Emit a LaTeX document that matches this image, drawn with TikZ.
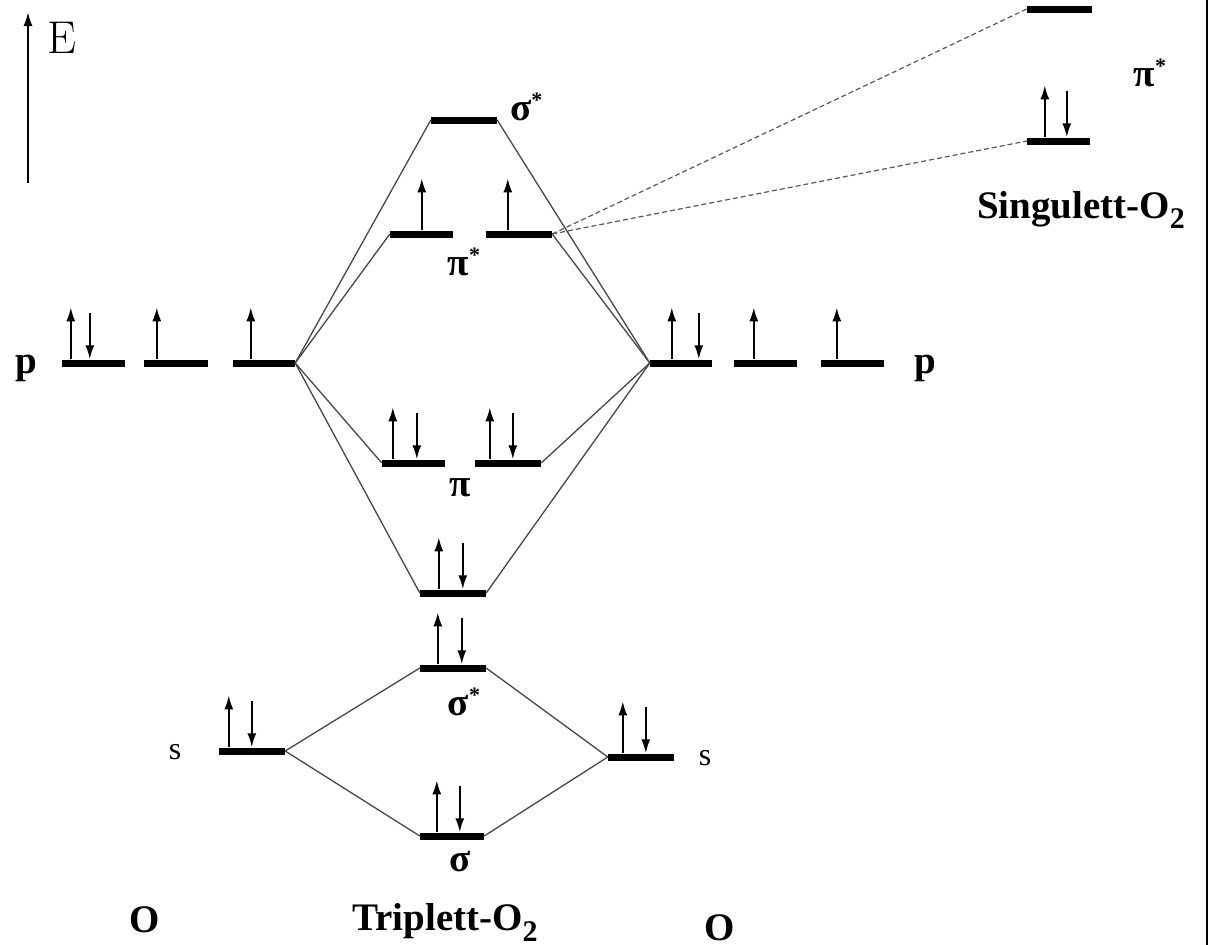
\documentclass[tikz,border=0pt]{standalone}
\usepackage{fontspec}
\newfontfamily\tms{Liberation Serif}
\usetikzlibrary{arrows.meta}
\newcommand\eU[2]{\draw[elec] ([xshift=#2pt]#1.north west) -- ++(0,-52);}
\newcommand\eD[2]{\draw[elec] ([xshift=#2pt,yshift=46pt]#1.north west) -- ([xshift=#2pt]#1.north west);}
\begin{document}
\begin{tikzpicture}[x=1pt,y=-1pt,
  lvl/.style={fill=black,inner sep=0pt,minimum height=7pt},
  corr/.style={draw=black!72,line width=1.3pt},
  dsh/.style={draw=black!65,line width=1.2pt,dash pattern=on 5pt off 3pt},
  elec/.style={line width=2pt,-{Latex[length=14pt,width=9pt]}},
  lbl/.style={font=\tms\bfseries\fontsize{39}{42}\selectfont,inner sep=0pt},
  slbl/.style={font=\tms\fontsize{32}{34}\selectfont,inner sep=0pt}]
\useasboundingbox (0,0) rectangle (1208,945);
\fill[white] (0,0) rectangle (1208,945);
\draw[line width=2pt] (1206.5,0) -- (1206.5,945);
% energy axis
\coordinate (eb) at (28,183);
\coordinate (et) at (28,12);
\draw[line width=2pt,-{Latex[length=14pt,width=9pt]}] (eb) -- (et);
\node[font=\fontsize{46}{48}\selectfont,inner sep=0pt] (E) at (62,38) {E};
% levels
\node[lvl,minimum width=63pt] (pL1) at (93.5,363) {};
\node[lvl,minimum width=64pt] (pL2) at (176,363) {};
\node[lvl,minimum width=62pt] (pL3) at (264,363) {};
\node[lvl,minimum width=62pt] (pR1) at (681,363) {};
\node[lvl,minimum width=63pt] (pR2) at (765.5,363) {};
\node[lvl,minimum width=63pt] (pR3) at (852.5,363) {};
\node[lvl,minimum width=66pt] (sgS) at (464,120) {};
\node[lvl,minimum width=63pt] (piS1) at (421.5,234) {};
\node[lvl,minimum width=66pt] (piS2) at (519,234) {};
\node[lvl,minimum width=63pt] (pi1) at (413.5,463) {};
\node[lvl,minimum width=66pt] (pi2) at (508,463) {};
\node[lvl,minimum width=66pt] (sgp) at (453,593) {};
\node[lvl,minimum width=66pt] (sgSs) at (453,668) {};
\node[lvl,minimum width=66pt] (sL) at (252,751) {};
\node[lvl,minimum width=66pt] (sR) at (641,757) {};
\node[lvl,minimum width=64pt] (sgs) at (452,836) {};
\node[lvl,minimum width=65pt] (stop) at (1059.5,9) {};
\node[lvl,minimum width=63pt] (sbot) at (1058.5,141) {};
% electrons
\eU{pL1}{9}\eD{pL1}{28}
\eU{pL2}{13}
\eU{pL3}{18}
\eU{pR1}{22}\eD{pR1}{49}
\eU{pR2}{20}
\eU{pR3}{16}
\eU{piS1}{32}
\eU{piS2}{22}
\eU{pi1}{11}\eD{pi1}{35}
\eU{pi2}{15}\eD{pi2}{38}
\eU{sgp}{19}\eD{sgp}{43}
\eU{sgSs}{18}\eD{sgSs}{42}
\eU{sL}{10}\eD{sL}{33}
\eU{sR}{15}\eD{sR}{38}
\eU{sgs}{17}\eD{sgs}{40}
\eU{sbot}{18}\eD{sbot}{40}
% correlation lines
\draw[corr] (pL3.east) -- (sgS.west);
\draw[corr] (pL3.east) -- (piS1.west);
\draw[corr] (pL3.east) -- (pi1.west);
\draw[corr] (pL3.east) -- (sgp.west);
\draw[corr] (pR1.west) -- (sgS.east);
\draw[corr] (pR1.west) -- (piS2.east);
\draw[corr] (pR1.west) -- (pi2.east);
\draw[corr] (pR1.west) -- (sgp.east);
\draw[corr] (sL.east) -- (sgSs.west);
\draw[corr] (sL.east) -- (sgs.west);
\draw[corr] (sR.west) -- (sgSs.east);
\draw[corr] (sR.west) -- (sgs.east);
\draw[dsh] (piS2.east) -- (stop.west);
\draw[dsh] (piS2.east) -- (sbot.west);
% labels
\node[lbl] (lpL) at (26,368) {p};
\node[lbl] (lpR) at (925,368) {p};
\node[slbl] (lsL) at (175,752) {s};
\node[slbl] (lsR) at (705,758) {s};
\node[lbl,anchor=west] (lsgS) at (510,107) {σ\raisebox{0.32em}{\fontsize{22}{22}\selectfont *}};
\node[lbl] (lpiS) at (464,262) {π\raisebox{0.32em}{\fontsize{22}{22}\selectfont *}};
\node[lbl] (lpi) at (460,488) {π};
\node[lbl] (lsgSs) at (464,702) {σ\raisebox{0.32em}{\fontsize{22}{22}\selectfont *}};
\node[lbl] (lsgs) at (460,862) {σ};
\node[lbl] (lpiSing) at (1150,73) {π\raisebox{0.32em}{\fontsize{22}{22}\selectfont *}};
\node[lbl] (lsing) at (1081,210) {Singulett-O\raisebox{-0.28em}{\fontsize{30}{31}\selectfont 2}};
\node[lbl] (ltrip) at (445,922) {Triplett-O\raisebox{-0.28em}{\fontsize{30}{31}\selectfont 2}};
\node[lbl] (lOL) at (145,920) {O};
\node[lbl] (lOR) at (720,928) {O};
\end{tikzpicture}
\end{document}
